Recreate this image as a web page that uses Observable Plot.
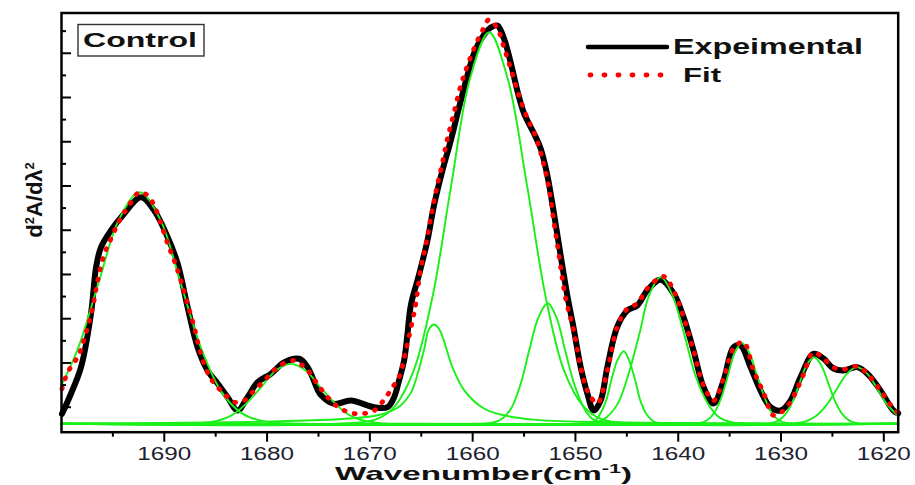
<!DOCTYPE html>
<html><head><meta charset="utf-8">
<script src="https://cdn.jsdelivr.net/npm/d3@7"></script>
<script src="https://cdn.jsdelivr.net/npm/@observablehq/plot@0.6"></script>
<style>
html,body{margin:0;padding:0;background:#fff;}
#chart{width:915px;height:485px;}
</style>
</head><body><div id="chart"></div>
<script>
// Wavenumber (cm-1), second-derivative intensity (arbitrary units)
const experimental = [[1699.95,0.45],[1699.07,1.37],[1698.1,2.56],[1697.13,4.98],[1696.64,7.07],[1696.16,7.98],[1695.19,8.74],[1693.89,9.51],[1692.27,10.24],[1690.98,9.64],[1689.67,8.43],[1688.7,7.24],[1687.73,5.27],[1686.76,3.46],[1685.79,2.41],[1684.81,1.82],[1683.84,1.20],[1682.87,0.60],[1681.9,1.20],[1680.92,1.88],[1679.63,2.26],[1678.34,2.78],[1676.88,2.94],[1676.06,2.56],[1675.09,1.55],[1674.77,1.30],[1673.48,0.90],[1671.85,1.05],[1669.59,0.75],[1668.28,0.75],[1667.64,1.20],[1667.16,1.96],[1666.67,2.86],[1666.34,4.08],[1666.02,5.35],[1665.24,6.70],[1664.4,8.28],[1663.76,9.87],[1662.94,11.45],[1662.13,12.80],[1661.35,14.25],[1660.51,15.74],[1659.87,16.74],[1659.21,17.37],[1658.24,17.91],[1657.59,18.00],[1656.95,17.41],[1656.3,16.33],[1655.65,15.06],[1655.0,14.03],[1654.03,13.12],[1653.38,12.44],[1652.73,11.22],[1652.09,9.51],[1651.44,7.61],[1650.79,5.80],[1650.17,4.31],[1649.49,2.56],[1648.84,1.37],[1648.23,0.60],[1647.55,1.05],[1646.9,2.56],[1645.92,4.40],[1644.95,5.12],[1643.98,5.35],[1643.01,6.03],[1641.71,6.51],[1640.45,5.89],[1639.48,4.82],[1638.51,3.31],[1637.53,1.65],[1636.56,0.92],[1635.59,1.96],[1634.62,3.46],[1633.94,3.54],[1632.96,2.56],[1631.99,1.50],[1631.02,0.75],[1630.05,0.60],[1629.08,1.05],[1628.1,2.11],[1626.84,3.16],[1625.87,2.95],[1624.9,2.50],[1623.93,2.41],[1622.6,2.56],[1621.62,2.27],[1620.33,1.51],[1619.06,0.60],[1618.6,0.47]];

const fit = [[1699.95,1.58],[1699.4,2.33],[1698.75,2.78],[1698.27,3.16],[1697.94,3.62],[1697.45,4.37],[1696.96,5.27],[1696.48,6.47],[1695.84,7.68],[1695.19,8.36],[1694.53,9.04],[1693.89,9.56],[1693.24,10.02],[1692.43,10.47],[1691.62,10.32],[1690.98,9.87],[1690.32,9.04],[1689.67,8.14],[1689.03,7.38],[1688.38,6.47],[1687.73,5.42],[1687.09,4.37],[1686.44,3.16],[1685.46,2.03],[1684.17,1.36],[1683.2,0.98],[1682.23,1.05],[1681.26,1.50],[1679.95,2.11],[1678.98,2.56],[1677.38,2.86],[1676.06,2.41],[1674.77,1.58],[1673.48,0.90],[1672.5,0.60],[1671.2,0.45],[1669.59,0.60],[1668.45,1.20],[1667.8,1.65],[1667.16,2.11],[1666.51,3.31],[1665.85,4.67],[1665.53,5.44],[1665.05,7.02],[1664.56,8.06],[1664.08,9.28],[1663.59,10.45],[1662.94,11.81],[1662.45,12.90],[1661.81,14.07],[1661.16,15.29],[1660.51,16.19],[1659.87,16.96],[1659.05,17.78],[1658.41,18.27],[1657.59,17.87],[1656.95,17.01],[1656.3,16.06],[1655.49,14.84],[1654.67,13.80],[1654.03,13.17],[1653.22,11.99],[1652.57,10.63],[1652.09,9.10],[1651.6,7.61],[1650.95,5.66],[1650.17,4.22],[1649.49,2.56],[1648.84,1.50],[1647.87,0.92],[1646.9,2.41],[1645.92,4.40],[1644.95,5.21],[1643.98,5.44],[1643.01,6.11],[1641.42,6.66],[1640.45,6.02],[1639.48,4.82],[1638.51,3.31],[1637.53,1.73],[1636.56,1.05],[1635.59,2.05],[1634.62,3.40],[1633.65,3.69],[1632.67,2.41],[1631.7,1.41],[1630.73,0.38],[1629.76,0.60],[1628.79,1.23],[1627.81,2.23],[1626.84,3.23],[1625.87,2.95],[1624.9,2.55],[1623.93,2.46],[1622.6,2.59],[1621.62,2.27],[1620.33,1.51],[1619.06,0.69],[1618.6,0.51]];

// fitted band components (green)
const comp1692 = [[1700,1.75],[1698.4,3.40],[1696.4,6.35],[1694.4,9.24],[1692.4,10.47],[1690.4,9.24],[1688.4,6.35],[1686.4,3.40],[1684.4,1.42],[1682.4,0.46],[1680.4,0.12],[1676.4,0],[1618.6,0]];
const comp1678 = [[1700,0],[1689.4,0],[1686.5,0.03],[1685.0,0.12],[1683.5,0.37],[1682.1,0.88],[1680.6,1.64],[1679.2,2.39],[1677.7,2.71],[1676.2,2.39],[1674.8,1.64],[1673.3,0.88],[1671.9,0.37],[1670.4,0.12],[1668.9,0.03],[1666.0,0],[1618.6,0]];
const comp1664 = [[1700,0],[1681.6,0.08],[1674.8,0.17],[1671.9,0.24],[1669.6,0.35],[1668.0,0.56],[1667.0,0.83],[1666.0,1.41],[1665.4,2.18],[1664.7,3.40],[1664.3,4.22],[1663.8,4.49],[1663.3,4.31],[1662.8,3.76],[1662.0,2.59],[1660.8,1.50],[1658.9,0.69],[1657.3,0.42],[1654.1,0.19],[1647.6,0.08],[1618.6,0]];
const comp1658 = [[1700,0],[1673.1,0],[1669.4,0.20],[1667.6,0.78],[1665.75,2.39],[1663.9,5.75],[1662.1,10.74],[1660.25,15.62],[1658.4,17.70],[1656.6,15.62],[1654.7,10.74],[1652.9,5.75],[1651.1,2.39],[1649.2,0.78],[1647.4,0.20],[1643.7,0],[1618.6,0]];
const comp1653 = [[1700,0],[1659.7,0],[1658.0,0.06],[1657.1,0.24],[1656.2,0.74],[1655.35,1.77],[1654.5,3.31],[1653.6,4.81],[1652.7,5.45],[1651.85,4.81],[1651.0,3.31],[1650.1,1.77],[1649.2,0.74],[1648.4,0.24],[1647.5,0.06],[1645.7,0],[1618.6,0]];
const comp1645 = [[1700,0],[1649.8,0],[1648.7,0.04],[1648.1,0.14],[1647.6,0.44],[1647.0,1.07],[1646.5,1.99],[1645.9,2.89],[1645.3,3.28],[1644.8,2.89],[1644.2,1.99],[1643.7,1.07],[1643.1,0.44],[1642.5,0.14],[1642.0,0.04],[1640.9,0],[1618.6,0]];
const comp1642 = [[1700,0],[1650.1,0],[1648.0,0.07],[1647.0,0.29],[1645.9,0.90],[1644.9,2.15],[1643.8,4.02],[1642.8,5.85],[1641.7,6.63],[1640.6,5.85],[1639.4,4.02],[1638.3,2.15],[1637.1,0.90],[1636.0,0.29],[1634.8,0.07],[1632.5,0],[1618.6,0]];
const comp1634 = [[1700,0],[1639.2,0],[1637.85,0.04],[1637.2,0.16],[1636.5,0.49],[1635.8,1.19],[1635.15,2.21],[1634.5,3.22],[1633.8,3.65],[1633.1,3.22],[1632.35,2.21],[1631.6,1.19],[1630.9,0.49],[1630.2,0.16],[1629.45,0.04],[1628.0,0],[1618.6,0]];
const comp1627 = [[1700,0],[1632.45,0],[1631.0,0.03],[1630.3,0.13],[1629.6,0.41],[1628.9,0.98],[1628.2,1.83],[1627.5,2.66],[1626.8,3.01],[1626.1,2.66],[1625.4,1.83],[1624.7,0.98],[1624.0,0.41],[1623.3,0.13],[1622.6,0.03],[1621.2,0],[1618.6,0]];
const comp1623 = [[1700,0],[1630.6,0],[1628.6,0.03],[1627.6,0.11],[1626.6,0.35],[1625.6,0.83],[1624.6,1.55],[1623.6,2.26],[1622.6,2.56],[1621.6,2.26],[1620.6,1.55],[1619.6,0.83],[1618.6,0.35]];

const xTicks = [1690,1680,1670,1660,1650,1640,1630,1620];
const xMinorTicks = [1695,1685,1675,1665,1655,1645,1635,1625];
const yMajorTicks = [0.75,2.75,4.75,6.75,8.75,10.75,12.75,14.75,16.75];
const yMinorTicks = [1.75,3.75,5.75,7.75,9.75,11.75,13.75,15.75,17.75];

const seriesNames = ["Expeimental","Fit"];
const panelLabel = "Control";

const components = [comp1692,comp1678,comp1664,comp1658,comp1653,comp1645,comp1642,comp1634,comp1627,comp1623];
const compRows = components.flatMap((c,i)=>c.map(p=>({wn:p[0],v:p[1],id:i})));
const toRows = arr => arr.map(p=>({wn:p[0],v:p[1]}));

const FONT = "'Liberation Sans', Arial, Helvetica, sans-serif";

const plot = Plot.plot({
  width: 915, height: 485,
  marginLeft: 61, marginRight: 17.3, marginTop: 12.5, marginBottom: 53.3,
  x: {domain: [1700, 1618.6], label: null},
  y: {domain: [-0.38, 18.57], label: null},
  style: {fontFamily: FONT, background: "white", overflow: "visible"},
  marks: [
    Plot.line(toRows(experimental), {x:"wn", y:"v", stroke:"#000", strokeWidth:6, curve:"catmull-rom", strokeLinejoin:"round", strokeLinecap:"round"}),
    Plot.line(compRows, {x:"wn", y:"v", z:"id", stroke:"#19f019", strokeWidth:1.9, curve:"catmull-rom"}),
    Plot.line(toRows(fit), {x:"wn", y:"v", stroke:"#ff0000", strokeWidth:4.8, strokeDasharray:"1 9.5", strokeLinecap:"round", curve:"catmull-rom"}),
    Plot.frame({stroke:"#000", strokeWidth:2.5}),
    Plot.axisX(xTicks, {anchor:"bottom", tickSize:10, tickPadding:5.5, stroke:"#000", strokeWidth:2, fontSize:17.5, fill:"#1c2230", tickFormat: d=>String(d), label:null}),
    Plot.axisX(xMinorTicks, {anchor:"bottom", tickSize:5, stroke:"#000", strokeWidth:2, tickFormat: ()=>"", label:null}),
    Plot.axisY(yMajorTicks, {anchor:"left", tickSize:10, dx:10, stroke:"#000", strokeWidth:2, tickFormat: ()=>"", label:null}),
    Plot.axisY(yMinorTicks, {anchor:"left", tickSize:5, dx:5, stroke:"#000", strokeWidth:2, tickFormat: ()=>"", label:null})
  ]
});
document.getElementById("chart").appendChild(plot);

const svg = d3.select(plot);
// widen tick labels like the original
svg.selectAll('g[aria-label="x-axis tick label"] text')
  .filter(function(){ return this.textContent.length > 0; })
  .attr("textLength", 54).attr("lengthAdjust", "spacingAndGlyphs");

const ov = svg.append("g").attr("font-family", FONT).attr("text-anchor", "start");

// x title
const xt = ov.append("text").attr("x", 335).attr("y", 480.3)
  .attr("font-size", 18.5).attr("font-weight", "bold").attr("fill", "#111")
  .attr("textLength", 297).attr("lengthAdjust", "spacingAndGlyphs");
xt.append("tspan").text("Wavenumber(cm");
xt.append("tspan").attr("dy", -7).attr("font-size", 12).text("-1");
xt.append("tspan").attr("dy", 7).text(")");

// y title
const yt = ov.append("text").attr("transform", "translate(42,200) rotate(-90)")
  .attr("text-anchor", "middle").attr("font-size", 22).attr("font-weight", "bold").attr("fill", "#111");
yt.append("tspan").text("d");
yt.append("tspan").attr("dy", -8).attr("font-size", 13).text("2");
yt.append("tspan").attr("dy", 8).text("A/dλ");
yt.append("tspan").attr("dy", -8).attr("font-size", 13).text("2");

// panel label box
ov.append("rect").attr("x", 78).attr("y", 24.5).attr("width", 126).attr("height", 31.5)
  .attr("fill", "white").attr("stroke", "#333").attr("stroke-width", 1.4);
ov.append("text").attr("x", 83).attr("y", 46.8).attr("font-size", 21).attr("font-weight", "bold")
  .attr("fill", "#111").attr("textLength", 114).attr("lengthAdjust", "spacingAndGlyphs").text(panelLabel);

// legend
ov.append("line").attr("x1", 588).attr("x2", 667).attr("y1", 47).attr("y2", 47)
  .attr("stroke", "#000").attr("stroke-width", 4.5).attr("stroke-linecap", "round");
ov.append("text").attr("x", 673).attr("y", 53.8).attr("font-size", 22).attr("font-weight", "bold")
  .attr("fill", "#111").attr("textLength", 190).attr("lengthAdjust", "spacingAndGlyphs").text(seriesNames[0]);
ov.append("line").attr("x1", 590).attr("x2", 661).attr("y1", 75).attr("y2", 75)
  .attr("stroke", "#ff0000").attr("stroke-width", 4.8).attr("stroke-linecap", "round").attr("stroke-dasharray", "1 13");
ov.append("text").attr("x", 683).attr("y", 81.7).attr("font-size", 21).attr("font-weight", "bold")
  .attr("fill", "#111").attr("textLength", 38).attr("lengthAdjust", "spacingAndGlyphs").text(seriesNames[1]);
</script>
</body></html>
